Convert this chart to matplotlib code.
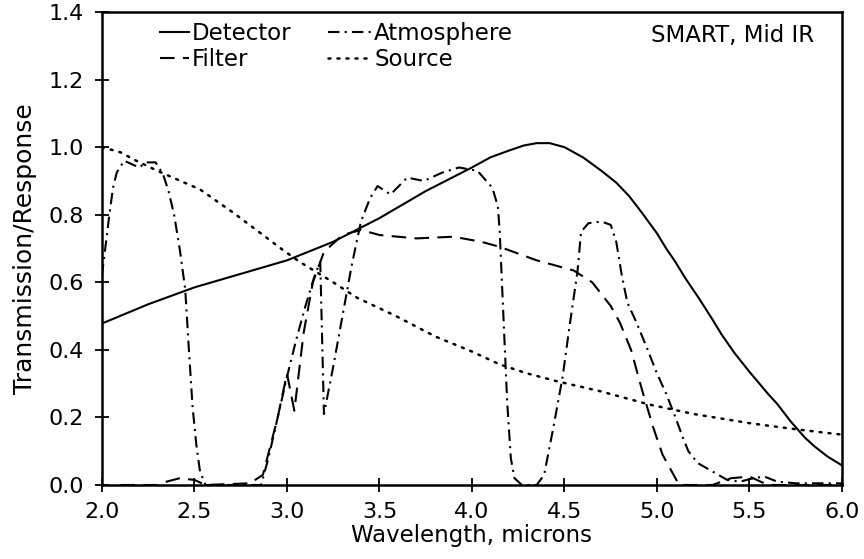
import matplotlib
matplotlib.use("Agg")
import matplotlib.pyplot as plt

# Detector response (solid)
det_x = [2.0, 2.25, 2.5, 2.75, 3.0, 3.25, 3.5, 3.75, 4.0, 4.1, 4.2, 4.28, 4.35,
         4.42, 4.5, 4.6, 4.7, 4.78, 4.85, 4.92, 5.0, 5.05, 5.1, 5.15, 5.23, 5.3,
         5.35, 5.42, 5.5, 5.6, 5.65, 5.72, 5.8, 5.85, 5.92, 6.0]
det_y = [0.478, 0.535, 0.585, 0.625, 0.665, 0.72, 0.79, 0.87, 0.94, 0.97, 0.99,
         1.005, 1.012, 1.012, 1.0, 0.97, 0.93, 0.895, 0.855, 0.805, 0.745, 0.70,
         0.66, 0.615, 0.55, 0.49, 0.445, 0.39, 0.335, 0.27, 0.24, 0.19, 0.14,
         0.115, 0.085, 0.058]

# Filter transmission (dashed)
filt_x = [2.1, 2.3, 2.35, 2.42, 2.5, 2.56, 2.8, 2.87, 2.95, 3.0, 3.04, 3.09, 3.14,
          3.2, 3.3, 3.4, 3.5, 3.7, 3.9, 4.05, 4.15, 4.25, 4.35, 4.45, 4.55, 4.65,
          4.75, 4.8, 4.86, 4.92, 4.98, 5.03, 5.08, 5.12, 5.3, 5.4, 5.5, 5.6, 6.0]
filt_y = [0.0, 0.0, 0.01, 0.02, 0.015, 0.0, 0.005, 0.03, 0.2, 0.33, 0.22, 0.45, 0.6,
          0.69, 0.74, 0.755, 0.74, 0.73, 0.735, 0.72, 0.705, 0.685, 0.665, 0.65,
          0.635, 0.6, 0.53, 0.48, 0.4, 0.28, 0.17, 0.09, 0.04, 0.0, 0.0, 0.02,
          0.025, 0.0, 0.0]

# Atmosphere transmission (dash-dot)
atm_x = [2.0, 2.02, 2.04, 2.06, 2.08, 2.12, 2.16, 2.2, 2.24, 2.29, 2.33, 2.36,
         2.39, 2.42, 2.45, 2.47, 2.49, 2.51, 2.53, 2.56, 2.86, 2.9, 2.95, 3.0,
         3.05, 3.1, 3.15, 3.18, 3.2, 3.25, 3.3, 3.35, 3.4, 3.45, 3.49, 3.56,
         3.65, 3.74, 3.84, 3.93, 4.03, 4.11, 4.14, 4.15, 4.17, 4.19, 4.21, 4.23,
         4.27, 4.35, 4.39, 4.44, 4.49, 4.53, 4.57, 4.59, 4.63, 4.7, 4.75, 4.78,
         4.81, 4.84, 4.89, 4.95, 5.0, 5.05, 5.1, 5.14, 5.17, 5.22, 5.3, 5.38,
         5.45, 5.52, 5.58, 5.65, 5.75, 6.0]
atm_y = [0.62, 0.71, 0.8, 0.88, 0.925, 0.96, 0.95, 0.94, 0.955, 0.955, 0.92, 0.87,
         0.8, 0.7, 0.58, 0.4, 0.23, 0.12, 0.04, 0.0, 0.0, 0.08, 0.2, 0.32,
         0.43, 0.53, 0.62, 0.66, 0.21, 0.35, 0.5, 0.65, 0.78, 0.85, 0.885, 0.86,
         0.91, 0.9, 0.925, 0.94, 0.93, 0.88, 0.825, 0.75, 0.5, 0.25, 0.08, 0.02,
         0.0, 0.0, 0.03, 0.17, 0.32, 0.48, 0.63, 0.75, 0.775, 0.78, 0.77, 0.72,
         0.62, 0.54, 0.48, 0.4, 0.33, 0.27, 0.2, 0.14, 0.1, 0.065, 0.04, 0.015,
         0.01, 0.02, 0.025, 0.01, 0.005, 0.005]

# Source spectrum (dotted)
src_x = [2.0, 2.1, 2.17, 2.3, 2.53, 2.71, 2.98, 3.07, 3.25, 3.38, 3.59, 3.8, 4.0,
         4.15, 4.3, 4.46, 4.69, 4.96, 5.2, 5.5, 5.75, 6.0]
src_y = [1.0, 0.985, 0.964, 0.93, 0.875, 0.806, 0.695, 0.66, 0.6, 0.554, 0.5, 0.44,
         0.395, 0.357, 0.33, 0.307, 0.278, 0.238, 0.21, 0.183, 0.165, 0.149]

xticks = [2.0, 2.5, 3.0, 3.5, 4.0, 4.5, 5.0, 5.5, 6.0]
yticks = [0.0, 0.2, 0.4, 0.6, 0.8, 1.0, 1.2, 1.4]

plt.rcParams["font.family"] = ["DejaVu Sans"]

fig = plt.figure(figsize=(8.64, 5.59), dpi=100)
ax = fig.add_axes([0.118, 0.1324, 0.8565, 0.846])

lw = 1.5
l_det, = ax.plot(det_x, det_y, color="black", lw=lw, label="Detector")
l_filt, = ax.plot(filt_x, filt_y, color="black", lw=lw, dashes=(7, 4), label="Filter")
l_atm, = ax.plot(atm_x, atm_y, color="black", lw=lw, dashes=(5.5, 2.5, 1, 2.5),
                 label="Atmosphere")
l_src, = ax.plot(src_x, src_y, color="black", lw=1.8, dashes=(0.8, 2.8),
                 dash_capstyle="round", label="Source")

ax.set_xlim(2.0, 6.0)
ax.set_ylim(0.0, 1.4)
ax.set_xticks(xticks)
ax.set_yticks(yticks)
ax.set_xticklabels([f"{t:.1f}" for t in xticks])
ax.set_yticklabels([f"{t:.1f}" for t in yticks])
ax.tick_params(direction="inout", length=10, width=1.3, labelsize=16)
ax.tick_params(axis="x", pad=7)
ax.tick_params(axis="y", pad=8)

for sp in ax.spines.values():
    sp.set_linewidth(1.8)

ax.set_xlabel("Wavelength, microns", fontsize=16.5, labelpad=2)
ax.set_ylabel("Transmission/Response", fontsize=18, labelpad=8)

leg1 = ax.legend([l_det, l_filt], ["Detector", "Filter"], loc="upper left",
                 bbox_to_anchor=(0.078, 0.98), frameon=False, handlelength=1.3,
                 handletextpad=0.1, labelspacing=0.15, fontsize=16.5,
                 borderaxespad=0, borderpad=0)
ax.add_artist(leg1)
ax.legend([l_atm, l_src], ["Atmosphere", "Source"], loc="upper left",
          bbox_to_anchor=(0.306, 0.98), frameon=False, handlelength=1.9,
          handletextpad=0.1, labelspacing=0.15, fontsize=16.5,
          borderaxespad=0, borderpad=0)

ax.text(0.962, 0.95, "SMART, Mid IR", transform=ax.transAxes, ha="right",
        va="center", fontsize=16.5)

fig.savefig("out.png", dpi=100)
